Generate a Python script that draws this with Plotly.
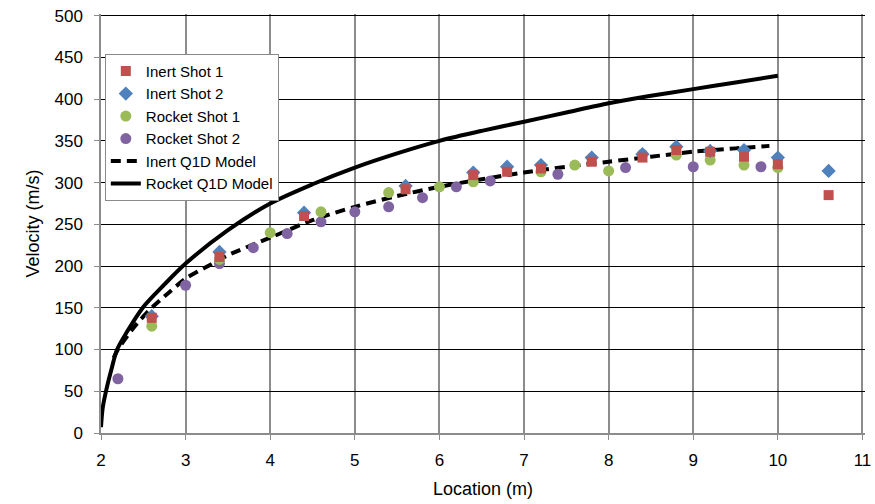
import plotly.graph_objects as go

# ---- data ----
inert1_x = [2.6, 3.4, 4.4, 5.6, 6.4, 6.8, 7.2, 7.8, 8.4, 8.8, 9.2, 9.6, 10.0, 10.6]
inert1_y = [138, 211, 260, 292, 309, 313, 317, 325, 330, 339, 337, 331, 322, 285]

inert2_x = [2.6, 3.4, 4.4, 5.6, 6.4, 6.8, 7.2, 7.8, 8.4, 8.8, 9.2, 9.6, 10.0, 10.6]
inert2_y = [140, 217, 264, 296, 312, 319, 321, 330, 334, 343, 338, 339, 330, 314]

rocket1_x = [2.6, 3.4, 4.0, 4.6, 5.4, 6.0, 6.4, 7.2, 7.6, 8.0, 8.4, 8.8, 9.2, 9.6, 10.0]
rocket1_y = [128, 208, 240, 265, 288, 295, 301, 313, 321, 314, 334, 333, 327, 321, 318]

rocket2_x = [2.2, 3.0, 3.4, 3.8, 4.2, 4.6, 5.0, 5.4, 5.8, 6.2, 6.6, 7.4, 8.2, 9.0, 9.8]
rocket2_y = [65, 177, 203, 222, 239, 253, 265, 271, 282, 295, 302, 310, 318, 319, 319]

inert_model_x = [2.15, 2.2, 2.4, 2.6, 2.8, 3.0, 3.3, 3.5, 4.0, 4.5, 5.0, 5.5, 6.0, 6.5, 7.0, 7.5, 8.0, 8.5, 9.0, 9.5, 9.9]
inert_model_y = [90, 100, 128, 150, 168, 185, 202, 213, 234, 255, 271, 284, 295, 304, 312, 319, 325, 331, 337, 341, 344]

rocket_model_x = [2.0, 2.02, 2.07, 2.12, 2.19, 2.3, 2.5, 2.75, 3.0, 3.5, 4.0, 4.5, 5.0, 5.5, 6.0, 6.5, 7.0, 7.5, 8.0, 8.5, 9.0, 9.5, 10.0]
rocket_model_y = [7, 30, 55, 75, 100, 120, 151, 178, 203, 243, 275, 298, 318, 335, 350, 362, 373, 384, 395, 404, 412, 420, 428]

x_ticks = list(range(2, 12))
y_ticks = list(range(0, 501, 50))

FONT = "Liberation Sans, Arial, sans-serif"

fig = go.Figure()

fig.add_trace(go.Scatter(x=inert_model_x, y=inert_model_y, mode="lines", name="Inert Q1D Model",
                         line=dict(color="black", width=4, dash="10px,6px", shape="spline", smoothing=0.8),
                         legendrank=5))
fig.add_trace(go.Scatter(x=rocket_model_x, y=rocket_model_y, mode="lines", name="Rocket Q1D Model",
                         line=dict(color="black", width=4, shape="spline", smoothing=0.8),
                         legendrank=6))

fig.add_trace(go.Scatter(x=rocket2_x, y=rocket2_y, mode="markers", name="Rocket Shot 2",
                         marker=dict(symbol="circle", size=11, color="#8064A2"), legendrank=4))
fig.add_trace(go.Scatter(x=rocket1_x, y=rocket1_y, mode="markers", name="Rocket Shot 1",
                         marker=dict(symbol="circle", size=11, color="#9BBB59"), legendrank=3))
fig.add_trace(go.Scatter(x=inert2_x, y=inert2_y, mode="markers", name="Inert Shot 2",
                         marker=dict(symbol="diamond", size=11, color="#4F81BD"), legendrank=2))
fig.add_trace(go.Scatter(x=inert1_x, y=inert1_y, mode="markers", name="Inert Shot 1",
                         marker=dict(symbol="square", size=10, color="#C0504D"), legendrank=1))

fig.update_layout(
    width=875, height=504,
    margin=dict(l=101, r=10, t=14, b=71, autoexpand=False),
    paper_bgcolor="white", plot_bgcolor="white",
    font=dict(family=FONT, color="black", size=17),
    showlegend=True,
    legend=dict(x=0.005, y=0.905, xanchor="left", yanchor="top",
                bgcolor="white", bordercolor="#8a8a8a", borderwidth=1,
                font=dict(size=15, family=FONT), tracegroupgap=0,
                itemwidth=30),
)
fig.update_xaxes(range=[2, 11.03], tickvals=x_ticks, ticktext=[str(v) for v in x_ticks],
                 showgrid=True, gridcolor="#8c8c8c", gridwidth=1.5,
                 showline=True, linecolor="#8c8c8c", linewidth=1.5,
                 ticks="outside", ticklen=5, tickcolor="#8c8c8c", ticklabelstandoff=6,
                 ticklabeloverflow="allow",
                 tickfont=dict(size=17), zeroline=False, automargin=False,
                 title=dict(text="Location (m)", font=dict(size=18), standoff=13))
fig.update_yaxes(range=[0, 502], tickvals=y_ticks, ticktext=[str(v) for v in y_ticks],
                 showgrid=True, gridcolor="black", gridwidth=1,
                 showline=True, linecolor="#8c8c8c", linewidth=1.5,
                 ticks="outside", ticklen=5, tickcolor="#8c8c8c", ticklabelstandoff=8,
                 ticklabeloverflow="allow",
                 tickfont=dict(size=17), zeroline=False, automargin=False,
                 title=dict(text="Velocity (m/s)", font=dict(size=18), standoff=10))

# remove the default 8px page margin so the 875x504 figure fills the window exactly
fig.write_html("out.html", config={"displayModeBar": False},
               post_script="document.body.style.margin='0';document.body.style.overflow='hidden';")
